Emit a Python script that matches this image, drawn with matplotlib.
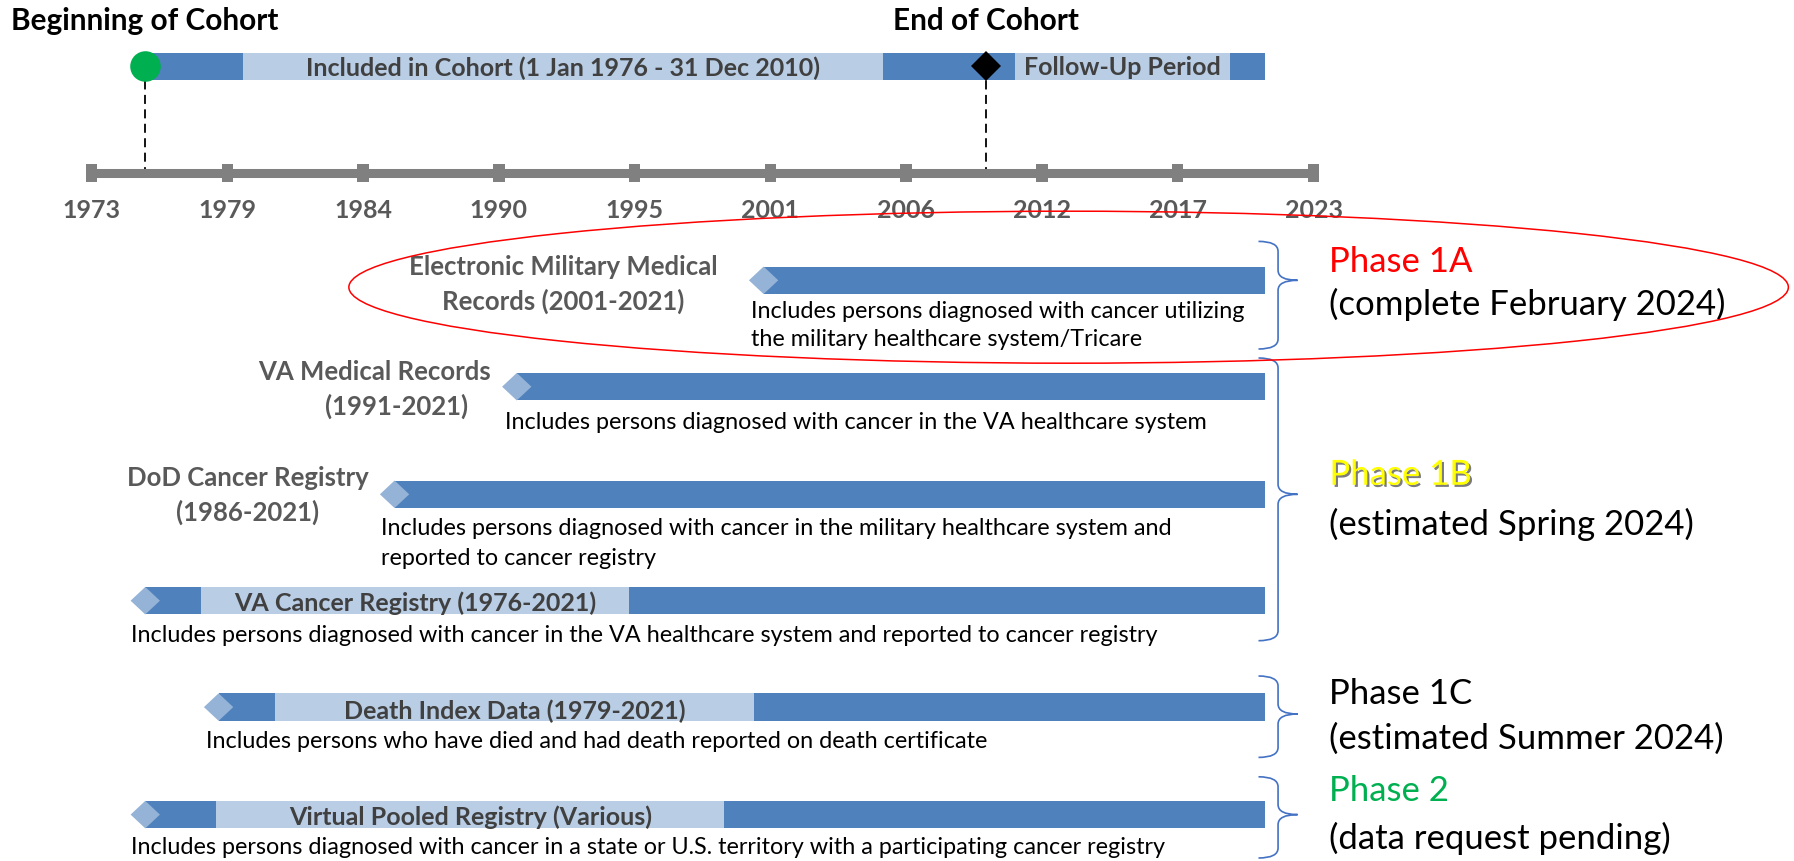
import matplotlib
matplotlib.use('Agg')
import matplotlib.pyplot as plt
import matplotlib.patheffects as pe
from matplotlib.patches import Ellipse, Polygon, PathPatch
from matplotlib.path import Path
import numpy as np

plt.rcParams['font.family'] = ['Lato', 'DejaVu Sans']

DARK = '#4f81bd'
LIGHT = '#b9cde5'
TIP = '#95b3d7'
GRAY = '#595959'

# timeline axis
tick_years = np.linspace(1973, 2023, 10)
tick_labels = ['1973', '1979', '1984', '1990', '1995', '2001', '2006', '2012', '2017', '2023']

# cohort bar (years)
cohort_edges = [1975.2, 1979.2, 2005.4, 2010.8, 2019.6, 2021.0]
cohort_shade = ['dark', 'light', 'dark', 'light', 'dark']
cohort_start = 1975.2
cohort_end = 2009.6

# data sources
row_names = ['Electronic Military Medical\nRecords (2001-2021)',
             'VA Medical Records\n(1991-2021)',
             'DoD Cancer Registry\n(1986-2021)',
             'VA Cancer Registry (1976-2021)',
             'Death Index Data (1979-2021)',
             'Virtual Pooled Registry (Various)']
row_start = [2000.5, 1990.4, 1985.4, 1975.2, 1978.2, 1975.2]
row_end = [2021, 2021, 2021, 2021, 2021, 2021]
row_light = [None, None, None, (1977.5, 1995.0), (1980.5, 2000.1), (1978.1, 1998.9)]
row_desc = ['Includes persons diagnosed with cancer utilizing\nthe military healthcare system/Tricare',
            'Includes persons diagnosed with cancer in the VA healthcare system',
            'Includes persons diagnosed with cancer in the military healthcare system and\nreported to cancer registry',
            'Includes persons diagnosed with cancer in the VA healthcare system and reported to cancer registry',
            'Includes persons who have died and had death reported on death certificate',
            'Includes persons diagnosed with cancer in a state or U.S. territory with a participating cancer registry']

# phases
phase_names = ['Phase 1A', 'Phase 1B', 'Phase 1C', 'Phase 2']
phase_notes = ['(complete February 2024)', '(estimated Spring 2024)',
               '(estimated Summer 2024)', '(data request pending)']
phase_colors = ['#ff0000', '#ffff00', '#000000', '#00b050']

# ---- layout (pixel rows, year columns) ----
row_y = [280.3, 386.7, 494.3, 600.7, 707.1, 814.6]
bar_h = 27.5
cohort_y = 66.4
axis_y = 172.8
name_x = [1992.3, (1984.6, 1985.5), 1979.4, 1986.25, 1990.3, 1988.5]
name_y = [(266.6, 300.9), (371.8, 406.0), (478.2, 512.6), 603.0, 711.6, 816.9]
desc_x = [2000.0, 1989.9, 1984.85, 1974.6, 1977.7, 1974.6]
desc_y = [(311.2, 339.8), (422.2,), (528.6, 558.3), (635.0,), (741.4,), (847.8,)]
phase_y = [(262, 304.3), (474.8, 524), (694.5, 739), (790.6, 838.6)]
brace_span = [(241.4, 349, 280.3), (358, 640.7, 494.3), (676, 757.4, 714), (776.8, 858, 814.6)]

fig = plt.figure(figsize=(17.94, 8.61), dpi=100)
ax = fig.add_axes([0, 0, 1, 1])
ax.set_xlim(1973 - 91.5 / 24.44, 1973 + (1794 - 91.5) / 24.44)
ax.set_ylim(861, 0)
ax.axis('off')

# titles
ax.text(1969.7, 20.6, 'Beginning of Cohort', fontsize=21.4, fontweight='bold', ha='left', va='center')
ax.text(cohort_end, 20.6, 'End of Cohort', fontsize=21.4, fontweight='bold', ha='center', va='center')

# cohort bar
for (a, b), s in zip(zip(cohort_edges[:-1], cohort_edges[1:]), cohort_shade):
    ax.barh(cohort_y, b - a, left=a, height=bar_h, color=DARK if s == 'dark' else LIGHT, zorder=2)
ax.text(1992.3, cohort_y + 2, 'Included in Cohort (1 Jan 1976 - 31 Dec 2010)', fontsize=18,
        fontweight='bold', color='#404040', ha='center', va='center', zorder=3)
ax.text(2015.2, cohort_y + 1, 'Follow-Up Period', fontsize=18, fontweight='bold',
        color='#404040', ha='center', va='center', zorder=3)
ax.vlines([cohort_start, cohort_end], cohort_y, axis_y, colors='black', linestyles=(0, (5, 3)), lw=1.3, zorder=1)
ax.plot(cohort_start, cohort_y, 'o', ms=22, color='#00b050', mew=0, zorder=4)
ax.plot(cohort_end, cohort_y, 'D', ms=15.5, color='black', mew=0, zorder=4)

# timeline
ax.hlines(axis_y, tick_years[0], tick_years[-1], colors='#808080', lw=6.5, zorder=2)
ax.bar(tick_years, 18, width=0.47, bottom=axis_y - 9, color='#808080', zorder=2)
for x, lab in zip(tick_years, tick_labels):
    ax.text(x, 210, lab, fontsize=18, fontweight='bold', color=GRAY, ha='center', va='center')

# rows
for i in range(len(row_names)):
    y, s, e = row_y[i], row_start[i], row_end[i]
    ax.barh(y, e - s, left=s, height=bar_h, color=DARK, zorder=2)
    if row_light[i]:
        a, b = row_light[i]
        ax.barh(y, b - a, left=a, height=bar_h, color=LIGHT, zorder=2)
    hw = 0.6
    ax.add_patch(Polygon([(s - hw, y), (s, y - bar_h / 2), (s + hw, y), (s, y + bar_h / 2)],
                         closed=True, color=TIP, lw=0, zorder=3))
    lines = row_names[i].split('\n')
    if len(lines) > 1:
        xs = name_x[i] if isinstance(name_x[i], tuple) else (name_x[i],) * len(lines)
        for ln, lx, ly in zip(lines, xs, name_y[i]):
            ax.text(lx, ly, ln, fontsize=18.5, fontweight='bold', color=GRAY, ha='center', va='center')
    else:
        ax.text(name_x[i], name_y[i], lines[0], fontsize=18, fontweight='bold', color='#404040',
                ha='center', va='center', zorder=4)
    for ln, ly in zip(row_desc[i].split('\n'), desc_y[i]):
        ax.text(desc_x[i], ly, ln, fontsize=16.8, color='black', ha='left', va='center')


# braces
def brace(x0, xs, xt, ytop, ybot, ytip, r=10):
    verts = [(x0, ytop), (xs, ytop), (xs, ytop + r),
             (xs, ytip - r), (xs, ytip), (xt, ytip),
             (xs, ytip), (xs, ytip + r),
             (xs, ybot - r), (xs, ybot), (x0, ybot)]
    codes = [Path.MOVETO, Path.CURVE3, Path.CURVE3,
             Path.LINETO, Path.CURVE3, Path.CURVE3,
             Path.CURVE3, Path.CURVE3,
             Path.LINETO, Path.CURVE3, Path.CURVE3]
    ax.add_patch(PathPatch(Path(verts, codes), fill=False, ec='#4472c4', lw=1.2))


for (ytop, ybot, ytip) in brace_span:
    brace(2020.75, 2021.55, 2022.35, ytop, ybot, ytip)

for name, note, col, (y1, y2) in zip(phase_names, phase_notes, phase_colors, phase_y):
    effects = None
    if col == '#ffff00':
        effects = [pe.SimplePatchShadow(offset=(1.5, -1.5), shadow_rgbFace='#444444', alpha=0.7), pe.Normal()]
    ax.text(2023.65, y1, name, fontsize=25, color=col, ha='left', va='center', path_effects=effects)
    ax.text(2023.65, y2, note, fontsize=25, color='black', ha='left', va='center')

# highlight ring around phase 1A
ax.add_patch(Ellipse((2012.98, 287.2), 58.9, 152, fill=False, ec='red', lw=1.1, zorder=5))

fig.savefig('out.png', dpi=100)
